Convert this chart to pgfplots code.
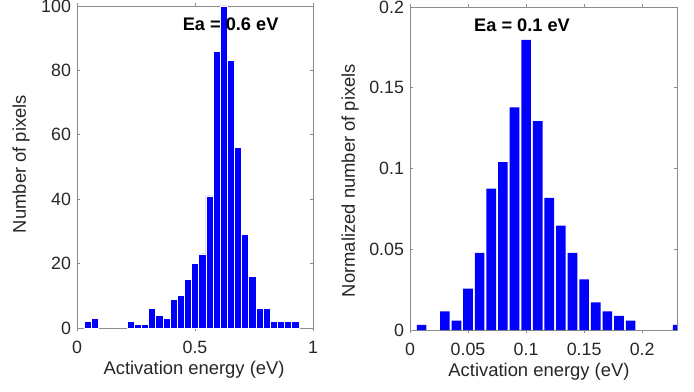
\documentclass[border=0pt]{standalone}
\usepackage{fontspec}
\setmainfont{Liberation Sans}
\usepackage{pgfplots}
\pgfplotsset{compat=1.18}
\begin{document}
\begin{tikzpicture}
\useasboundingbox (0,0) rectangle (347pt,195.5pt);
\pgfplotsset{
  mystyle/.style={
    scale only axis,
    axis line style={black!45},
    tick style={black!45, thin},
    major tick length=1.6pt,
    tick align=inside,
    xtick pos=both, ytick pos=both,
    scaled ticks=false,
    ticklabel style={font=\fontsize{8.9}{10}\selectfont, text=black!85},
    label style={font=\fontsize{9.2}{10}\selectfont, text=black!85},
    xticklabel style={yshift=-1.5pt},
    yticklabel style={xshift=0.5pt},
    ylabel style={at={(axis description cs:0,0.5)}, anchor=center},
    ybar, bar width=0.0303,
  }
}
% left
\begin{axis}[mystyle,
  at={(38.5pt,31.5pt)}, anchor=south west,
  width=118pt, height=161pt,
  xmin=0, xmax=1, ymin=0, ymax=100,
  xtick={0,0.5,1}, ytick={0,20,40,60,80,100},
  xticklabels={0,0.5,1}, yticklabels={0,20,40,60,80,100},
  xlabel={Activation energy (eV)},
  ylabel={Number of pixels},
  xlabel style={at={(axis description cs:0.496,0)}, anchor=center, yshift=-21pt},
  ylabel style={xshift=1.5pt, yshift=28pt},
  bar width=0.0303,
]
\addplot[fill=blue, draw=white, line width=0.35pt] coordinates {
(0.0462,2) (0.0765,3) (0.2280,2) (0.2583,1) (0.2886,1) (0.3189,6) (0.3492,4)
(0.3795,3) (0.4098,9) (0.4401,10) (0.4704,15) (0.5007,20) (0.5310,23)
(0.5613,41) (0.5916,86) (0.6219,100) (0.6522,83) (0.6825,56) (0.7128,29)
(0.7431,16) (0.7734,6) (0.8037,6) (0.8340,2) (0.8643,2) (0.8946,2) (0.9249,2)
};
\node[font=\bfseries\fontsize{9.1}{10}\selectfont] at (axis cs:0.651,94.4) {Ea = 0.6 eV};
\end{axis}
% right
\begin{axis}[mystyle,
  at={(205pt,30.5pt)}, anchor=south west,
  width=133.5pt, height=161.5pt,
  xmin=0, xmax=0.23, ymin=0, ymax=0.2,
  xtick={0,0.05,0.1,0.15,0.2}, ytick={0,0.05,0.1,0.15,0.2},
  xticklabels={0,0.05,0.1,0.15,0.2}, yticklabels={0,0.05,0.1,0.15,0.2},
  xlabel={Activation energy (eV)},
  ylabel={Normalized number of pixels},
  xlabel style={at={(axis description cs:0.483,0)}, anchor=center, yshift=-21pt},
  ylabel style={yshift=30pt, xshift=-6pt},
  bar width=0.0083,
]
\addplot[fill=blue, draw=none] coordinates {
(0.01,0.0031) (0.03,0.0116) (0.04,0.0058) (0.05,0.0256) (0.06,0.0477)
(0.07,0.0876) (0.08,0.1039) (0.09,0.1378) (0.10,0.1797) (0.11,0.1293)
(0.12,0.0818) (0.13,0.0647) (0.14,0.0477) (0.15,0.0314) (0.16,0.0171)
(0.17,0.0116) (0.18,0.0087) (0.19,0.0058) (0.2306,0.0031)
};
\node[font=\bfseries\fontsize{9.1}{10}\selectfont] at (axis cs:0.0965,0.1889) {Ea = 0.1 eV};
\end{axis}
\end{tikzpicture}
\end{document}
